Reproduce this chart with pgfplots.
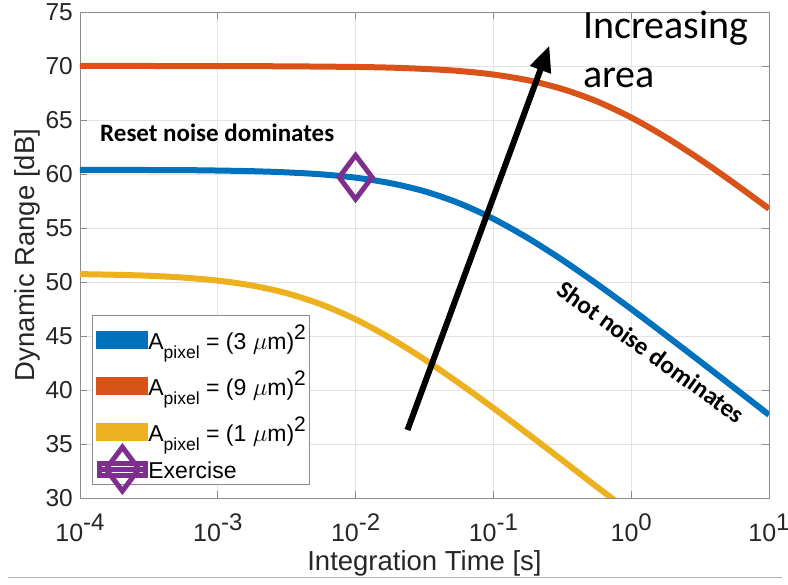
\documentclass[border=0pt]{standalone}
\usepackage{pgfplots}
\pgfplotsset{compat=1.18}
\usepackage{fontspec}
\setmainfont{Liberation Sans}
\newfontfamily\calibri{Carlito}
\usetikzlibrary{arrows.meta}
\definecolor{mblue}{RGB}{0,114,189}
\definecolor{morange}{RGB}{217,83,25}
\definecolor{myellow}{RGB}{237,177,32}
\definecolor{mpurple}{RGB}{126,47,142}
\definecolor{axgray}{RGB}{140,140,140}
\definecolor{txt}{RGB}{38,38,38}
\newcommand{\tp}[1]{10\raisebox{11bp}{\fontsize{24bp}{26bp}\selectfont #1}}
\newcommand{\apix}[1]{A\raisebox{-9bp}{\fontsize{17.5bp}{19bp}\selectfont pixel} = (#1 $\mu$m)\raisebox{10bp}{\fontsize{21bp}{23bp}\selectfont 2}}
\begin{document}
\begin{tikzpicture}
\useasboundingbox (0,0) rectangle (788bp,585bp);
\begin{axis}[
  at={(80bp,87bp)}, anchor=south west,
  scale only axis, width=689bp, height=486bp,
  xmode=log, log basis x=10, xmin=1e-4, xmax=10,
  ymin=30, ymax=75,
  ytick={30,35,...,75},
  xtick={1e-4,1e-3,1e-2,1e-1,1,10},
  xticklabels={\tp{-4},\tp{-3},\tp{-2},\tp{-1},\tp{0},\tp{1}},
  /pgf/number format/assume math mode=true,
  tick label style={text=txt},
  yticklabel style={font=\fontsize{24.5bp}{28bp}\selectfont, anchor=east, inner sep=0pt, xshift=-7bp},
  xticklabel style={font=\fontsize{25bp}{28bp}\selectfont, anchor=north, inner sep=0pt, yshift=-16bp},
  xlabel={Integration Time [s]},
  ylabel={Dynamic Range [dB]},
  label style={font=\fontsize{27.5bp}{32bp}\selectfont, text=txt},
  xlabel style={at={(axis description cs:0.5,-0.150)}, anchor=base, inner sep=0pt},
  ylabel style={at={(axis description cs:-0.0653,0.5)}, anchor=base, inner sep=0pt},
  grid=major,
  xminorgrids=true,
  major grid style={solid, gray!22, line width=0.8bp},
  minor grid style={gray!40, line width=0.7bp, dash pattern=on 1.2bp off 2bp},
  axis line style={axgray, line width=0.8bp},
  tick style={axgray, line width=0.8bp},
  major tick length=7bp, minor tick length=4bp,
  legend style={at={(axis description cs:0,0)}, anchor=south west, xshift=12bp, yshift=13bp,
    draw=axgray, line width=0.8bp, fill=white, inner xsep=4bp, inner ysep=1.5bp,
    row sep=0pt, column sep=0pt,
    font=\fontsize{23bp}{26bp}\selectfont, text=black,
    nodes={inner sep=0pt}, cells={anchor=west}},
  legend image code/.code={%
    \draw[overlay, mark repeat=2, mark phase=2, #1] plot coordinates {(0bp,0bp) (23bp,0bp) (46bp,0bp)};
    \path (0bp,-6bp) rectangle (46bp,6bp);},
]
\addplot[mblue, line width=6bp, smooth] coordinates {
(1e-4,60.39) (1.778e-4,60.39) (3.162e-4,60.37) (5.623e-4,60.36)
(1e-3,60.32) (1.778e-3,60.26) (3.162e-3,60.15) (5.623e-3,59.97)
(1e-2,59.66) (1.778e-2,59.16) (3.162e-2,58.40) (5.623e-2,57.30)
(0.1,55.85) (0.1778,54.07) (0.3162,52.04) (0.5623,49.83)
(1,47.50) (1.778,45.09) (3.162,42.65) (5.623,40.18) (10,37.70)};
\addlegendentry[text height=32bp, text depth=14bp]{\apix{3}}
\addplot[morange, line width=6bp, smooth] coordinates {
(1e-4,70.00) (3.162e-4,70.00) (1e-3,69.99) (3.162e-3,69.97)
(1e-2,69.91) (1.778e-2,69.85) (3.162e-2,69.73) (5.623e-2,69.54)
(0.1,69.21) (0.1778,68.68) (0.3162,67.87) (0.5623,66.73)
(1,65.23) (1.778,63.41) (3.162,61.35) (5.623,59.12) (10,56.78)};
\addlegendentry[text height=32bp, text depth=14bp]{\apix{9}}
\addplot[myellow, line width=6bp, smooth] coordinates {
(1e-4,50.73) (1.778e-4,50.67) (3.162e-4,50.58) (5.623e-4,50.41)
(1e-3,50.13) (1.778e-3,49.67) (3.162e-3,48.96) (5.623e-3,47.93)
(1e-2,46.54) (1.778e-2,44.82) (3.162e-2,42.83) (5.623e-2,40.64)
(0.1,38.33) (0.1778,35.94) (0.3162,33.50) (0.5623,31.04) (1,28.63)};
\addlegendentry[text height=32bp, text depth=14bp]{\apix{1}}
\addplot[mpurple, line width=5bp, mark=diamond, mark size=22pt] coordinates {(1e-2,59.7)};
\addlegendentry[text height=23bp, text depth=5bp]{Exercise}
\draw[black, line width=6bp, -{Triangle[length=26bp,width=21bp]}] (axis cs:0.0238,36.3) -- (axis cs:0.255,71.9);
\end{axis}
\node[anchor=base west, inner sep=0pt, font=\calibri\fontsize{40bp}{48bp}\selectfont] at (583bp,546bp) {Increasing};
\node[anchor=base west, inner sep=0pt, font=\calibri\fontsize{40bp}{48bp}\selectfont] at (583bp,497bp) {area};
\node[anchor=base west, inner sep=0pt, font=\calibri\bfseries\fontsize{25bp}{30bp}\selectfont] at (100bp,443bp) {Reset noise dominates};
\node[rotate=-35.7, inner sep=0pt, font=\calibri\bfseries\fontsize{25bp}{30bp}\selectfont] at (651bp,233bp) {Shot noise dominates};
\draw[gray!60, line width=1bp] (8bp,7bp) -- (782bp,7bp);
\end{tikzpicture}
\end{document}
